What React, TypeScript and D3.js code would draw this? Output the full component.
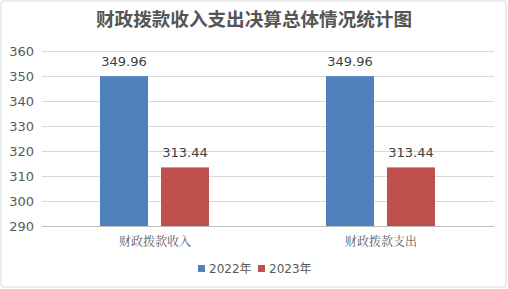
import React from "react";
import * as d3 from "d3";

const categories = ["财政拨款收入", "财政拨款支出"];
const seriesNames = ["2022年", "2023年"];
const values2022 = [349.96, 349.96];
const values2023 = [313.44, 313.44];
const yTicks = [290, 300, 310, 320, 330, 340, 350, 360];
const colors = ["#4F81BD", "#C0504D"];
const title = "财政拨款收入支出决算总体情况统计图";

export default function App() {
  const W = 508, H = 289;
  const left = 42, right = 494, top = 51, bottom = 226;
  const x = d3.scaleBand().domain(categories).range([left, right]);
  const y = d3.scaleLinear().domain([290, 360]).range([bottom, top]);
  const series = [values2022, values2023];
  const barW = 48;
  const offsets = [-55, 6];
  const font = "'DejaVu Sans', 'Noto Sans CJK SC', sans-serif";
  return (
    <svg width={W} height={H} style={{ position: "absolute", left: 0, top: 0 }}>
      <rect x={0} y={0} width={W} height={H} fill="#fff" />
      <rect x={1} y={1} width={W - 3} height={H - 3} fill="#fff" stroke="#d9d9d9" strokeWidth={1} rx={3} />
      <text x={254} y={26} textAnchor="middle" fontSize={18.6} fontWeight="bold" fill="#555" fontFamily="'Noto Sans CJK SC', sans-serif">{title}</text>
      {yTicks.map((t) => (
        <g key={t}>
          <line x1={left} x2={right} y1={y(t) + 0.5} y2={y(t) + 0.5} stroke={t === 290 ? "#bfbfbf" : "#d9d9d9"} strokeWidth={1} />
          <text x={34} y={y(t) + 4.5} textAnchor="end" fontSize={13} fill="#595959" fontFamily={font}>{t}</text>
        </g>
      ))}
      {categories.map((c, i) => {
        const cx = (x(c) as number) + x.bandwidth() / 2;
        return (
          <g key={c}>
            {series.map((s, j) => {
              const bx = cx + offsets[j];
              return (
                <g key={j}>
                  <rect x={bx} y={y(s[i])} width={barW} height={bottom - y(s[i])} fill={colors[j]} />
                  <text x={bx + barW / 2} y={y(s[i]) - 10} textAnchor="middle" fontSize={13} fill="#404040" fontFamily={font}>{s[i].toFixed(2)}</text>
                </g>
              );
            })}
            <text x={cx} y={246} textAnchor="middle" fontSize={12} fill="#595959" fontFamily="'Noto Serif CJK SC', 'Noto Sans CJK SC', serif">{c}</text>
          </g>
        );
      })}
      {seriesNames.map((n, j) => {
        const lx = j === 0 ? 198 : 258;
        return (
          <g key={n}>
            <rect x={lx} y={265} width={7} height={7} fill={colors[j]} />
            <text x={lx + 11} y={273} fontSize={12} fill="#595959" fontFamily={font}>{n}</text>
          </g>
        );
      })}
    </svg>
  );
}
